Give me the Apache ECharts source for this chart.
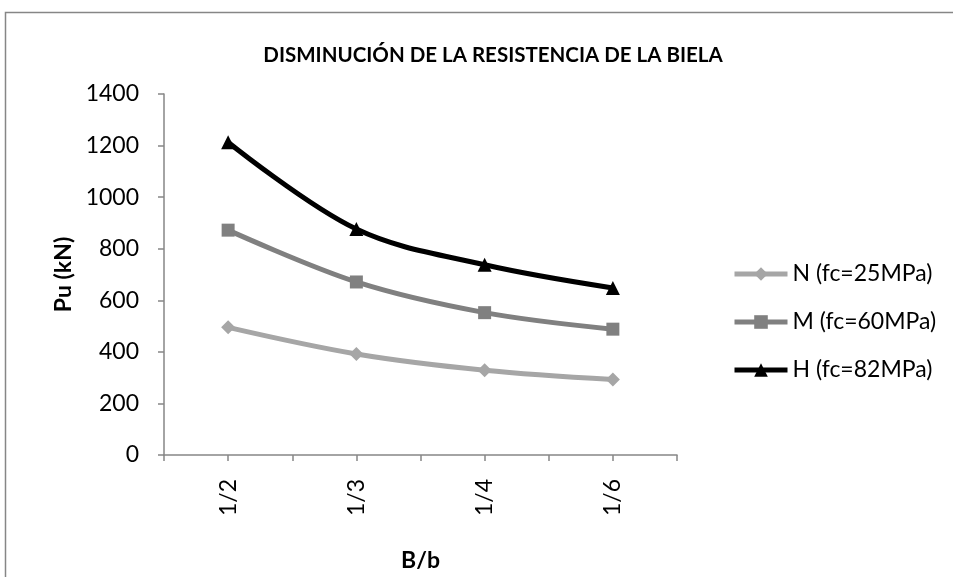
<!DOCTYPE html>
<html>
<head>
<meta charset="utf-8">
<script src="https://cdn.jsdelivr.net/npm/echarts@6/dist/echarts.min.js"></script>
<style>
  html, body { margin: 0; padding: 0; background: #fff; }
  #chart { width: 953px; height: 577px; }
</style>
</head>
<body>
<div id="chart"></div>
<script>
// Strut capacity vs. width ratio B/b for three concrete strengths
const categories = ['1/2', '1/3', '1/4', '1/6'];
const seriesNames = ['N (fc=25MPa)', 'M (fc=60MPa)', 'H (fc=82MPa)'];
const valuesN = [495, 392, 329, 293];
const valuesM = [872, 671, 552, 488];
const valuesH = [1213, 876, 738, 648];
const yTicks = { min: 0, max: 1400, interval: 200 };

const font = 'Lato, "Open Sans", sans-serif';
const axisGray = '#868686';
const chart = echarts.init(document.getElementById('chart'), null, { renderer: 'canvas' });

const lineSeries = (name, data, color, symbol, size) => ({
  name, type: 'line', data, smooth: 0.35,
  symbol, symbolSize: size,
  lineStyle: { color, width: 5 },
  itemStyle: { color },
  emphasis: { disabled: true }
});

chart.setOption({
  animation: false,
  backgroundColor: '#fff',
  graphic: [{
    type: 'rect', shape: { x: 5.5, y: 12.5, width: 960, height: 580 },
    style: { fill: 'none', stroke: axisGray, lineWidth: 1.5 }, silent: true, z: -1
  }],
  title: {
    text: 'DISMINUCIÓN DE LA RESISTENCIA DE LA BIELA',
    left: 488, top: 40, textAlign: 'center',
    textStyle: { fontFamily: font, fontWeight: 'bold', fontSize: 20.5, color: '#000' }
  },
  legend: {
    orient: 'vertical', left: 727, top: 257, itemGap: 24,
    itemWidth: 53, itemHeight: 17,
    lineStyle: { width: 5 },
    textStyle: { fontFamily: font, fontSize: 23, lineHeight: 24, color: '#000' },
    data: seriesNames
  },
  grid: { left: 164, right: 276, top: 94, bottom: 119, containLabel: false },
  xAxis: [{
    type: 'category', data: categories, boundaryGap: true,
    name: 'B/b', nameLocation: 'middle', nameGap: 94,
    nameTextStyle: { fontFamily: font, fontWeight: 'bold', fontSize: 23, color: '#000' },
    axisLine: { lineStyle: { color: axisGray, width: 1.5 } },
    axisTick: { show: true, length: 6, lineStyle: { color: axisGray, width: 1.5 } },
    axisLabel: { rotate: 90, margin: 24, fontFamily: font, fontSize: 23, color: '#000' }
  }, {
    type: 'category', data: categories, boundaryGap: true, position: 'bottom',
    axisLine: { show: false },
    axisTick: { show: true, alignWithLabel: true, length: 6, lineStyle: { color: axisGray, width: 1.5 } },
    axisLabel: { show: false }
  }],
  yAxis: {
    type: 'value', min: yTicks.min, max: yTicks.max, interval: yTicks.interval,
    name: 'Pu (kN)', nameLocation: 'middle', nameGap: 81, nameRotate: 90,
    nameTextStyle: { fontFamily: font, fontWeight: 'bold', fontSize: 23, color: '#000' },
    axisLine: { show: true, lineStyle: { color: axisGray, width: 1.5 } },
    axisTick: { show: true, length: 6, lineStyle: { color: axisGray, width: 1.5 } },
    splitLine: { show: false },
    axisLabel: { margin: 25, fontFamily: font, fontSize: 23, color: '#000', formatter: v => String(v) }
  },
  series: [
    lineSeries(seriesNames[0], valuesN, '#a6a6a6', 'diamond', 14),
    lineSeries(seriesNames[1], valuesM, '#808080', 'rect', 13),
    lineSeries(seriesNames[2], valuesH, '#000000', 'triangle', 14)
  ]
});
</script>
</body>
</html>
